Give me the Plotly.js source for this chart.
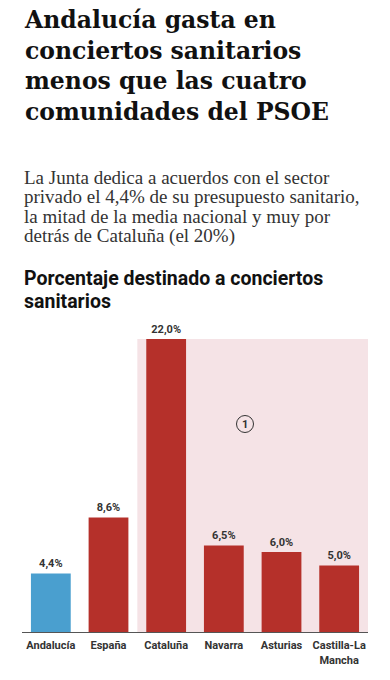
<!DOCTYPE html>
<html><head><meta charset="utf-8">
<script src="https://cdn.plot.ly/plotly-3.0.1.min.js"></script>
<style>html,body{margin:0;padding:0;background:#fff;}#c{width:390px;height:680px;}</style>
</head><body><div id="c"></div>
<script>
const categories = ["Andalucía", "España", "Cataluña", "Navarra", "Asturias", "Castilla-La<br>Mancha"];
const values = [4.4, 8.6, 22.0, 6.5, 6.0, 5.0];
const barColors = ["#4a9fcf", "#b5302a", "#b5302a", "#b5302a", "#b5302a", "#b5302a"];
const headline = "Andalucía gasta en<br>conciertos sanitarios<br>menos que las cuatro<br>comunidades del PSOE";
const subtitleLines = ["La Junta dedica a acuerdos con el sector",
  "privado el 4,4% de su presupuesto sanitario,",
  "la mitad de la media nacional y muy por",
  "detrás de Cataluña (el 20%)"];
const chartTitleLines = ["Porcentaje destinado a conciertos", "sanitarios"];

const W = 390, H = 680, L = 22, R = 22, T = 339, B = 48;
const ph = H - T - B, pw = W - L - R;
const py = p => (H - B - p) / ph;
const px = p => (p - L) / pw;

const trace = {
  type: "bar", x: categories, y: values,
  marker: {color: barColors},
  texttemplate: "%{y:.1f}%", textposition: "outside",
  textfont: {family: "Roboto", size: 11, color: "#333", weight: "bold"},
  cliponaxis: false, hoverinfo: "skip"
};

const annotations = [
  {text: headline, xref: "paper", yref: "paper", x: 0, y: py(4), xanchor: "left", yanchor: "top",
   align: "left", showarrow: false,
   font: {family: "DejaVu Serif", size: 23.5, color: "#111", weight: "bold"}},
  {text: "1", xref: "paper", yref: "paper", x: px(245), y: py(424), xanchor: "center", yanchor: "middle",
   showarrow: false, font: {family: "Roboto", size: 11, color: "#333", weight: "bold"}}
];
const subY = [177.5, 197, 216.5, 236];
subtitleLines.forEach((t, i) => annotations.push({
  text: t, xref: "paper", yref: "paper", x: 0, y: py(subY[i]), xanchor: "left", yanchor: "middle",
  align: "left", showarrow: false, font: {family: "Liberation Serif", size: 19, color: "#333"}}));
const ctY = [278, 301];
chartTitleLines.forEach((t, i) => annotations.push({
  text: t, xref: "paper", yref: "paper", x: 0, y: py(ctY[i]), xanchor: "left", yanchor: "middle",
  align: "left", showarrow: false, font: {family: "Roboto", size: 19.5, color: "#111", weight: "bold"}}));

const layout = {
  width: W, height: H, margin: {l: L, r: R, t: T, b: B},
  paper_bgcolor: "#fff", plot_bgcolor: "#fff",
  separators: ",.", showlegend: false, bargap: 0.31,
  xaxis: {type: "category", range: [-0.5, 5.5], showline: true, linecolor: "#555", linewidth: 1,
          ticks: "", fixedrange: true, ticklabelstandoff: 3,
          tickfont: {family: "Roboto", size: 11, color: "#333", weight: "bold"}},
  yaxis: {range: [0, 22], visible: false, fixedrange: true},
  shapes: [
    {type: "rect", xref: "x", yref: "paper", x0: 1.5, x1: 5.5, y0: 0, y1: 1,
     fillcolor: "#f5e3e6", line: {width: 0}, layer: "below"},
    {type: "circle", xref: "paper", yref: "paper", xsizemode: "pixel", ysizemode: "pixel",
     xanchor: px(245), yanchor: py(424), x0: -8.5, x1: 8.5, y0: -8.5, y1: 8.5,
     line: {color: "#333", width: 1}, fillcolor: "rgba(0,0,0,0)"}
  ],
  annotations: annotations
};

Plotly.newPlot("c", [trace], layout, {displayModeBar: false, staticPlot: true});
</script></body></html>
